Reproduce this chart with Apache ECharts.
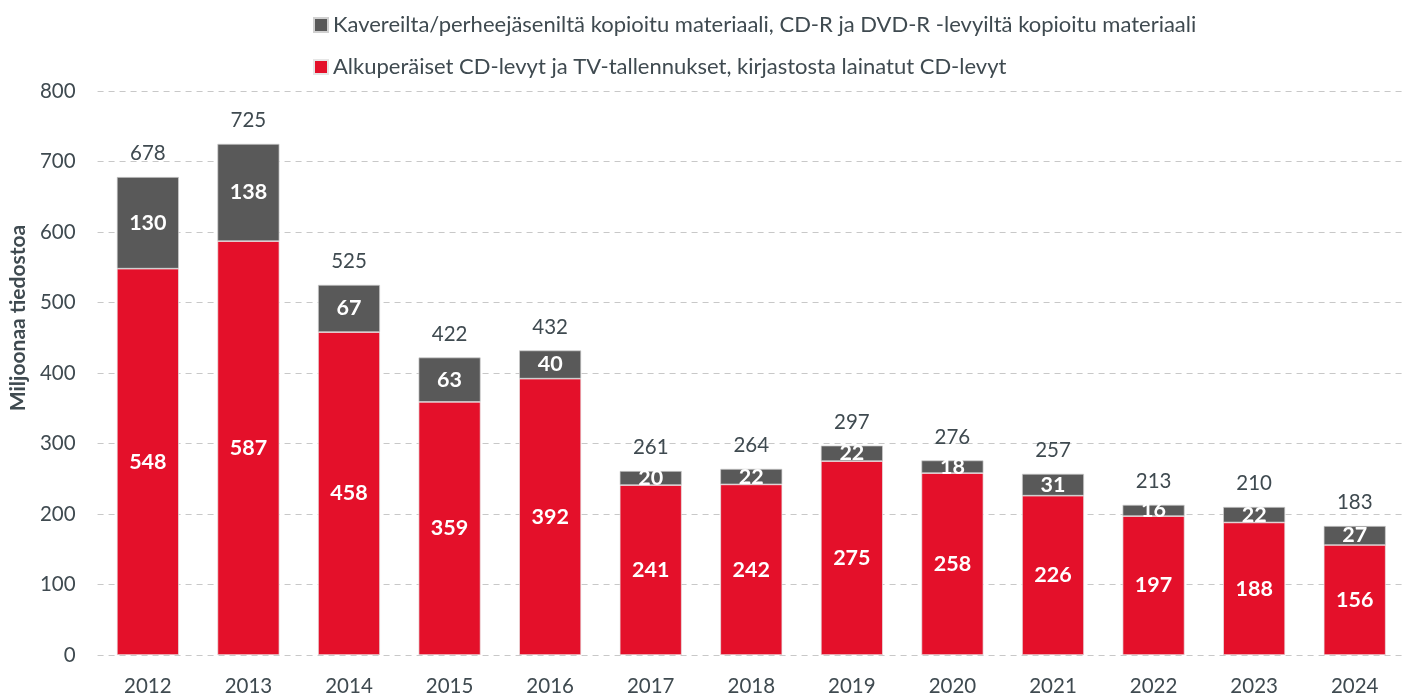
<!DOCTYPE html>
<html><head><meta charset="utf-8">
<script src="https://cdn.jsdelivr.net/npm/echarts@6/dist/echarts.min.js"></script>
<style>html,body{margin:0;padding:0;background:#fff}#c{width:1413px;height:697px}</style>
</head><body><div id="c"></div>
<script>
const years = ['2012','2013','2014','2015','2016','2017','2018','2019','2020','2021','2022','2023','2024'];
const original = [548,587,458,359,392,241,242,275,258,226,197,188,156];
const copied = [130,138,67,63,40,20,22,22,18,31,16,22,27];
const totals = [678,725,525,422,432,261,264,297,276,257,213,210,183];
const nameCopied = 'Kavereilta/perheejäseniltä kopioitu materiaali, CD-R ja DVD-R -levyiltä kopioitu materiaali';
const nameOriginal = 'Alkuperäiset CD-levyt ja TV-tallennukset, kirjastosta lainatut CD-levyt';
const FONT = 'Lato';
const TXT = '#3f4a50';
const chart = echarts.init(document.getElementById('c'));
chart.setOption({
  animation:false,
  textStyle:{fontFamily:FONT},
  legend:{orient:'vertical',left:308,top:9,itemWidth:14,itemHeight:14,itemGap:20,
    data:[nameCopied,nameOriginal],icon:'rect',
    textStyle:{fontFamily:FONT,fontSize:22,color:TXT}},
  grid:{left:95,right:8,top:91,bottom:40},
  xAxis:{type:'category',data:years,
    axisLine:{show:false},axisTick:{show:false},
    axisLabel:{fontFamily:FONT,fontSize:20.5,color:TXT,margin:21}},
  yAxis:{type:'value',min:0,max:800,interval:100,
    name:'Miljoonaa tiedostoa',nameLocation:'middle',nameGap:68,nameRotate:90,
    nameTextStyle:{fontFamily:FONT,fontSize:21,fontWeight:'bold',color:TXT,padding:[0,0,0,110]},
    axisLabel:{fontFamily:FONT,fontSize:20.5,color:TXT,margin:22},
    splitLine:{lineStyle:{color:'#c8c8c8',type:[6,5],width:1}}},
  series:[
    {name:nameOriginal,type:'bar',stack:'a',data:original,barWidth:62,
      itemStyle:{color:'#e4102a',borderColor:'#e6e6e6',borderWidth:0.7},
      label:{show:true,position:'inside',color:'#fff',fontFamily:FONT,fontWeight:'bold',fontSize:21.5}},
    {name:nameCopied,type:'bar',stack:'a',data:copied,barWidth:62,
      itemStyle:{color:'#595959',borderColor:'#d0d0d0',borderWidth:0.7},
      label:{show:true,position:'inside',color:'#fff',fontFamily:FONT,fontWeight:'bold',fontSize:21.5}},
    {name:'total',type:'bar',stack:'a',data:totals.map(()=>0),barWidth:62,
      itemStyle:{color:'transparent'},
      label:{show:true,position:'top',distance:13,color:TXT,fontFamily:FONT,fontSize:20.5,
        formatter:p=>totals[p.dataIndex]}}
  ]
});
</script></body></html>
